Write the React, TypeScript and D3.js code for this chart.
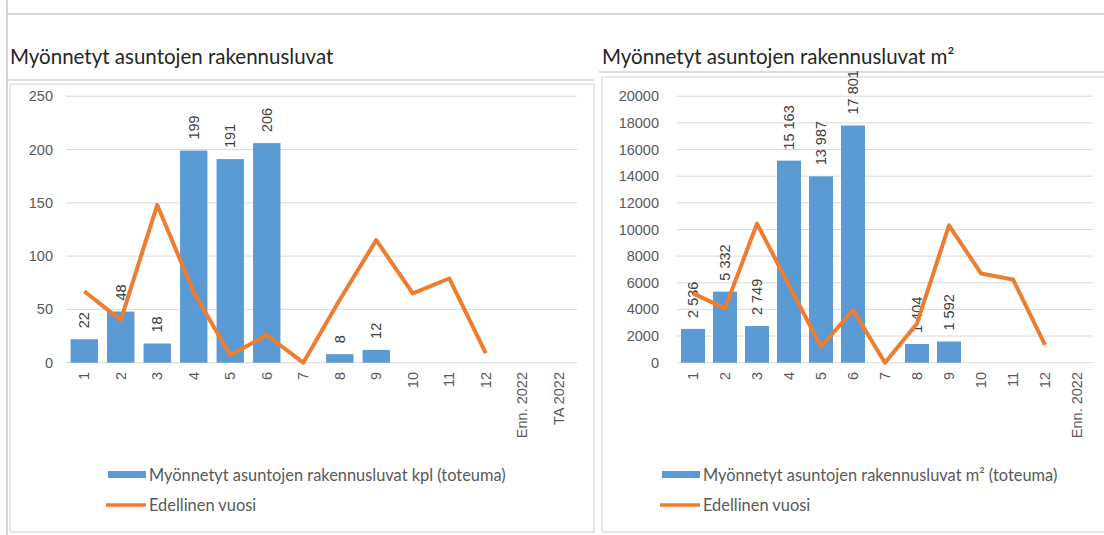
import React from 'react';
import * as d3 from 'd3';

const kplCategories = ['1', '2', '3', '4', '5', '6', '7', '8', '9', '10', '11', '12', 'Enn. 2022', 'TA 2022'];
const kplActual = [22, 48, 18, 199, 191, 206, null, 8, 12, null, null, null, null, null];
const kplPrevious = [67, 40, 148, 66, 7, 26, 0, 59, 115, 65, 79, 9, null, null];
const kplTicks = [0, 50, 100, 150, 200, 250];

const m2Categories = ['1', '2', '3', '4', '5', '6', '7', '8', '9', '10', '11', '12', 'Enn. 2022'];
const m2Actual = [2536, 5332, 2749, 15163, 13987, 17801, null, 1404, 1592, null, null, null, null];
const m2Previous = [5200, 4080, 10440, 5800, 1200, 3950, 0, 2950, 10310, 6700, 6250, 1330, null];
const m2Ticks = [0, 2000, 4000, 6000, 8000, 10000, 12000, 14000, 16000, 18000, 20000];

const BLUE = '#5B9BD5';
const ORANGE = '#ED7D31';
const GRID = '#D9D9D9';
const TEXT = '#595959';
const LABEL_FONT = '"Liberation Sans", Arial, sans-serif';
const TITLE_FONT = 'Lato, "Open Sans", sans-serif';

const fmtSpace = (v: number) => d3.format(',')(v).replace(/,/g, ' ');

type PanelProps = {
  x0: number;
  x1: number;
  yAxisRight: number;
  categories: string[];
  actual: (number | null)[];
  previous: (number | null)[];
  ticks: number[];
  max: number;
  labelFmt: (v: number) => string;
  title: string;
  legendBar: string;
  legendX: number;
  titleLineY: number;
  boxTop: number;
  boxLeft: number;
  boxRight: number;
};

function Panel(p: PanelProps) {
  const x = d3.scaleBand().domain(p.categories).range([p.x0, p.x1]).paddingInner(0.25).paddingOuter(0.125);
  const y = d3.scaleLinear().domain([0, p.max]).range([362.7, 96.2]);
  const line = d3
    .line<number | null>()
    .defined(d => d !== null)
    .x((d, i) => (x(p.categories[i]) as number) + x.bandwidth() / 2)
    .y(d => y(d as number));

  return (
    <g>
      <text x={p.boxLeft} y={64} fontFamily={TITLE_FONT} fontSize={20.5} fill="#262626">
        {p.title}
      </text>
      <line x1={p.boxLeft - 3} x2={p.boxRight} y1={p.titleLineY} y2={p.titleLineY} stroke="#D0D0D0" strokeWidth={1.5} />
      <rect x={p.boxLeft} y={p.boxTop} width={p.boxRight - p.boxLeft} height={532 - p.boxTop} fill="white" stroke="#D9D9D9" strokeWidth={1.2} />
      {p.ticks.map(t => (
        <g key={t}>
          <line x1={p.x0} x2={p.x1} y1={y(t)} y2={y(t)} stroke={GRID} strokeWidth={1} />
          <text x={p.yAxisRight} y={y(t)} dy="0.35em" textAnchor="end" fontFamily={LABEL_FONT} fontSize={14.5} fill={TEXT}>
            {t}
          </text>
        </g>
      ))}
      {p.actual.map((v, i) =>
        v === null ? null : (
          <g key={i}>
            <rect x={x(p.categories[i])} y={y(v)} width={x.bandwidth()} height={y(0) - y(v)} fill={BLUE} />
            <text
              transform={`translate(${(x(p.categories[i]) as number) + x.bandwidth() / 2},${y(v) - 11}) rotate(-90)`}
              dy="0.35em"
              fontFamily={LABEL_FONT}
              fontSize={14.5}
              fill="#404040"
            >
              {p.labelFmt(v)}
            </text>
          </g>
        )
      )}
      <path d={line(p.previous) || ''} fill="none" stroke={ORANGE} strokeWidth={4} strokeLinejoin="round" />
      {p.categories.map(c => (
        <text
          key={c}
          transform={`translate(${(x(c) as number) + x.bandwidth() / 2},${372}) rotate(-90)`}
          dy="0.35em"
          textAnchor="end"
          fontFamily={LABEL_FONT}
          fontSize={14.5}
          fill={TEXT}
        >
          {c}
        </text>
      ))}
      <rect x={p.legendX} y={471} width={38} height={7} fill={BLUE} />
      <text x={p.legendX + 41} y={475} dy="0.35em" fontFamily={TITLE_FONT} fontSize={16.4} fill={TEXT}>
        {p.legendBar}
      </text>
      <line x1={p.legendX - 2} x2={p.legendX + 38} y1={505} y2={505} stroke={ORANGE} strokeWidth={3.5} />
      <text x={p.legendX + 41} y={505} dy="0.35em" fontFamily={TITLE_FONT} fontSize={16.4} fill={TEXT}>
        Edellinen vuosi
      </text>
    </g>
  );
}

export default function App() {
  return (
    <div style={{ position: 'absolute', left: 0, top: 0 }}>
      <svg width={1104} height={535} style={{ display: 'block', background: 'white' }}>
        <line x1={7} x2={1104} y1={14} y2={14} stroke="#C8C8C8" strokeWidth={1.5} />
        <line x1={7} x2={7} y1={0} y2={535} stroke="#C8C8C8" strokeWidth={1.5} />
        <Panel
          x0={66}
          x1={577}
          yAxisRight={53}
          categories={kplCategories}
          actual={kplActual}
          previous={kplPrevious}
          ticks={kplTicks}
          max={250}
          labelFmt={v => String(v)}
          title="Myönnetyt asuntojen rakennusluvat"
          legendBar="Myönnetyt asuntojen rakennusluvat kpl (toteuma)"
          legendX={108}
          titleLineY={80}
          boxTop={84}
          boxLeft={10}
          boxRight={594}
        />
        <Panel
          x0={677}
          x1={1093}
          yAxisRight={659}
          categories={m2Categories}
          actual={m2Actual}
          previous={m2Previous}
          ticks={m2Ticks}
          max={20000}
          labelFmt={fmtSpace}
          title="Myönnetyt asuntojen rakennusluvat m²"
          legendBar="Myönnetyt asuntojen rakennusluvat m² (toteuma)"
          legendX={662}
          titleLineY={72}
          boxTop={77}
          boxLeft={602}
          boxRight={1110}
        />
      </svg>
    </div>
  );
}
